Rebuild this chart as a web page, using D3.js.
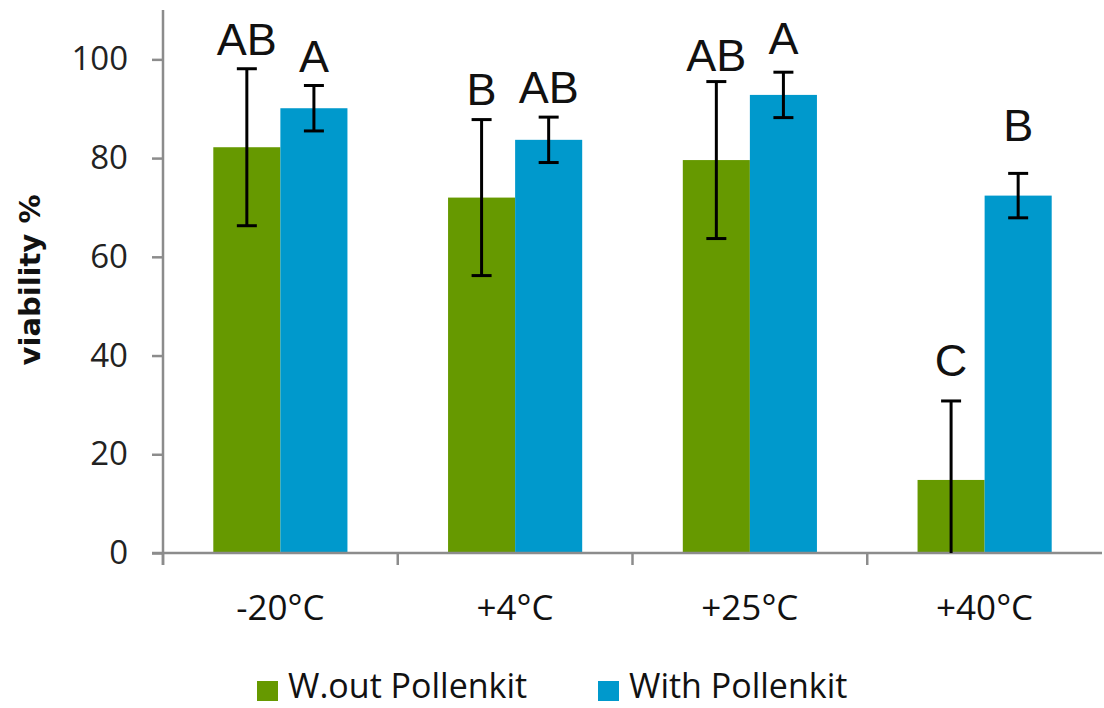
<!DOCTYPE html>
<html><head><meta charset="utf-8">
<script src="https://cdn.jsdelivr.net/npm/d3@7"></script>
<style>body{margin:0;background:#fff}svg{display:block}</style>
</head><body>
<svg id="c" width="1104" height="708"></svg>
<script>
const categories = ["-20°C", "+4°C", "+25°C", "+40°C"];
const seriesNames = ["W.out Pollenkit", "With Pollenkit"];
const withoutValues = [82.2, 72.0, 79.6, 14.8];
const withValues = [90.1, 83.7, 92.8, 72.4];
const withoutErr = [15.9, 15.8, 15.9, 16.0];
const withErr = [4.6, 4.6, 4.6, 4.5];
const withoutLetters = ["AB", "B", "AB", "C"];
const withLetters = ["A", "AB", "A", "B"];
const withoutLetterAt = [100.8, 90.7, 97.6, 35.8];
const withLetterAt = [97.4, 91.1, 101.0, 83.4];
const yTicks = [0, 20, 40, 60, 80, 100];
const colors = ["#669900", "#0099CC"];

(function () {
const svg = d3.select("#c");
const pLeft = 163, pRight = 1102, pBottom = 553, pTop = 10;
const x = d3.scaleBand().domain(categories).range([pLeft, pRight]).padding(0);
const xs = d3.scaleBand().domain(seriesNames).range([0, x.bandwidth()]).paddingInner(0).paddingOuter(0.75);
const y = d3.scaleLinear().domain([0, 110]).range([pBottom, pTop]);

const rows = [];
categories.forEach((c, i) => {
  rows.push({cat: c, s: seriesNames[0], v: withoutValues[i], e: withoutErr[i], L: withoutLetters[i], ly: withoutLetterAt[i], col: colors[0]});
  rows.push({cat: c, s: seriesNames[1], v: withValues[i], e: withErr[i], L: withLetters[i], ly: withLetterAt[i], col: colors[1]});
});

svg.append("g").selectAll("rect").data(rows).join("rect")
  .attr("x", d => x(d.cat) + xs(d.s))
  .attr("width", xs.bandwidth())
  .attr("y", d => y(d.v))
  .attr("height", d => y(0) - y(d.v))
  .attr("fill", d => d.col);

const yAxis = svg.append("g").attr("transform", `translate(${pLeft},0)`)
  .call(d3.axisLeft(y).tickValues(yTicks).tickSize(11).tickPadding(24));
yAxis.select(".domain").attr("d", `M0,${y(0)+12}V${pTop}`);
const xAxis = svg.append("g").attr("transform", `translate(0,${pBottom})`)
  .call(d3.axisBottom(x).tickSize(0).tickPadding(42));
xAxis.select(".domain").attr("d", `M${pLeft-11},0H${pRight}`);
xAxis.selectAll("line.bound").data(categories).join("line").attr("class","bound")
  .attr("x1", d => x(d)).attr("x2", d => x(d)).attr("y1", 0).attr("y2", 12);
svg.selectAll(".domain, .tick line, line.bound").attr("stroke", "#8c8c8c").attr("stroke-width", 2.5);
yAxis.selectAll(".tick text").attr("font-family", "Open Sans, sans-serif").attr("font-size", 33).attr("fill", "#222");
xAxis.selectAll(".tick text").attr("font-family", "Open Sans, sans-serif").attr("font-size", 35).attr("fill", "#111");

const eb = svg.append("g").attr("stroke", "#000").attr("stroke-width", 3);
rows.forEach(d => {
  const cx = x(d.cat) + xs(d.s) + xs.bandwidth() / 2;
  const hi = y(d.v + d.e), lo = y(Math.max(0, d.v - d.e));
  eb.append("line").attr("x1", cx).attr("x2", cx).attr("y1", hi).attr("y2", lo);
  eb.append("line").attr("x1", cx - 10).attr("x2", cx + 10).attr("y1", hi).attr("y2", hi);
  if (d.v - d.e > 0) eb.append("line").attr("x1", cx - 10).attr("x2", cx + 10).attr("y1", lo).attr("y2", lo);
});

svg.append("g").selectAll("text").data(rows).join("text")
  .attr("x", d => x(d.cat) + xs(d.s) + xs.bandwidth() / 2)
  .attr("y", d => y(d.ly))
  .attr("text-anchor", "middle")
  .attr("font-family", "Liberation Sans, Arial, sans-serif")
  .attr("font-size", 45).attr("fill", "#111")
  .text(d => d.L);

svg.append("text").attr("transform", "translate(40,280) rotate(-90)")
  .attr("text-anchor", "middle").attr("font-family", "DejaVu Sans, sans-serif")
  .attr("font-weight", "bold").attr("font-size", 29).attr("fill", "#111")
  .text("viability %");

const legX = [257, 598];
const leg = svg.append("g");
seriesNames.forEach((s, i) => {
  leg.append("rect").attr("x", legX[i]).attr("y", 681).attr("width", 21).attr("height", 20).attr("fill", colors[i]);
  leg.append("text").attr("x", legX[i] + 31).attr("y", 698)
    .attr("font-family", "Open Sans, sans-serif")
    .attr("font-size", 34).attr("fill", "#111").text(s);
});
})();
</script>
</body></html>
